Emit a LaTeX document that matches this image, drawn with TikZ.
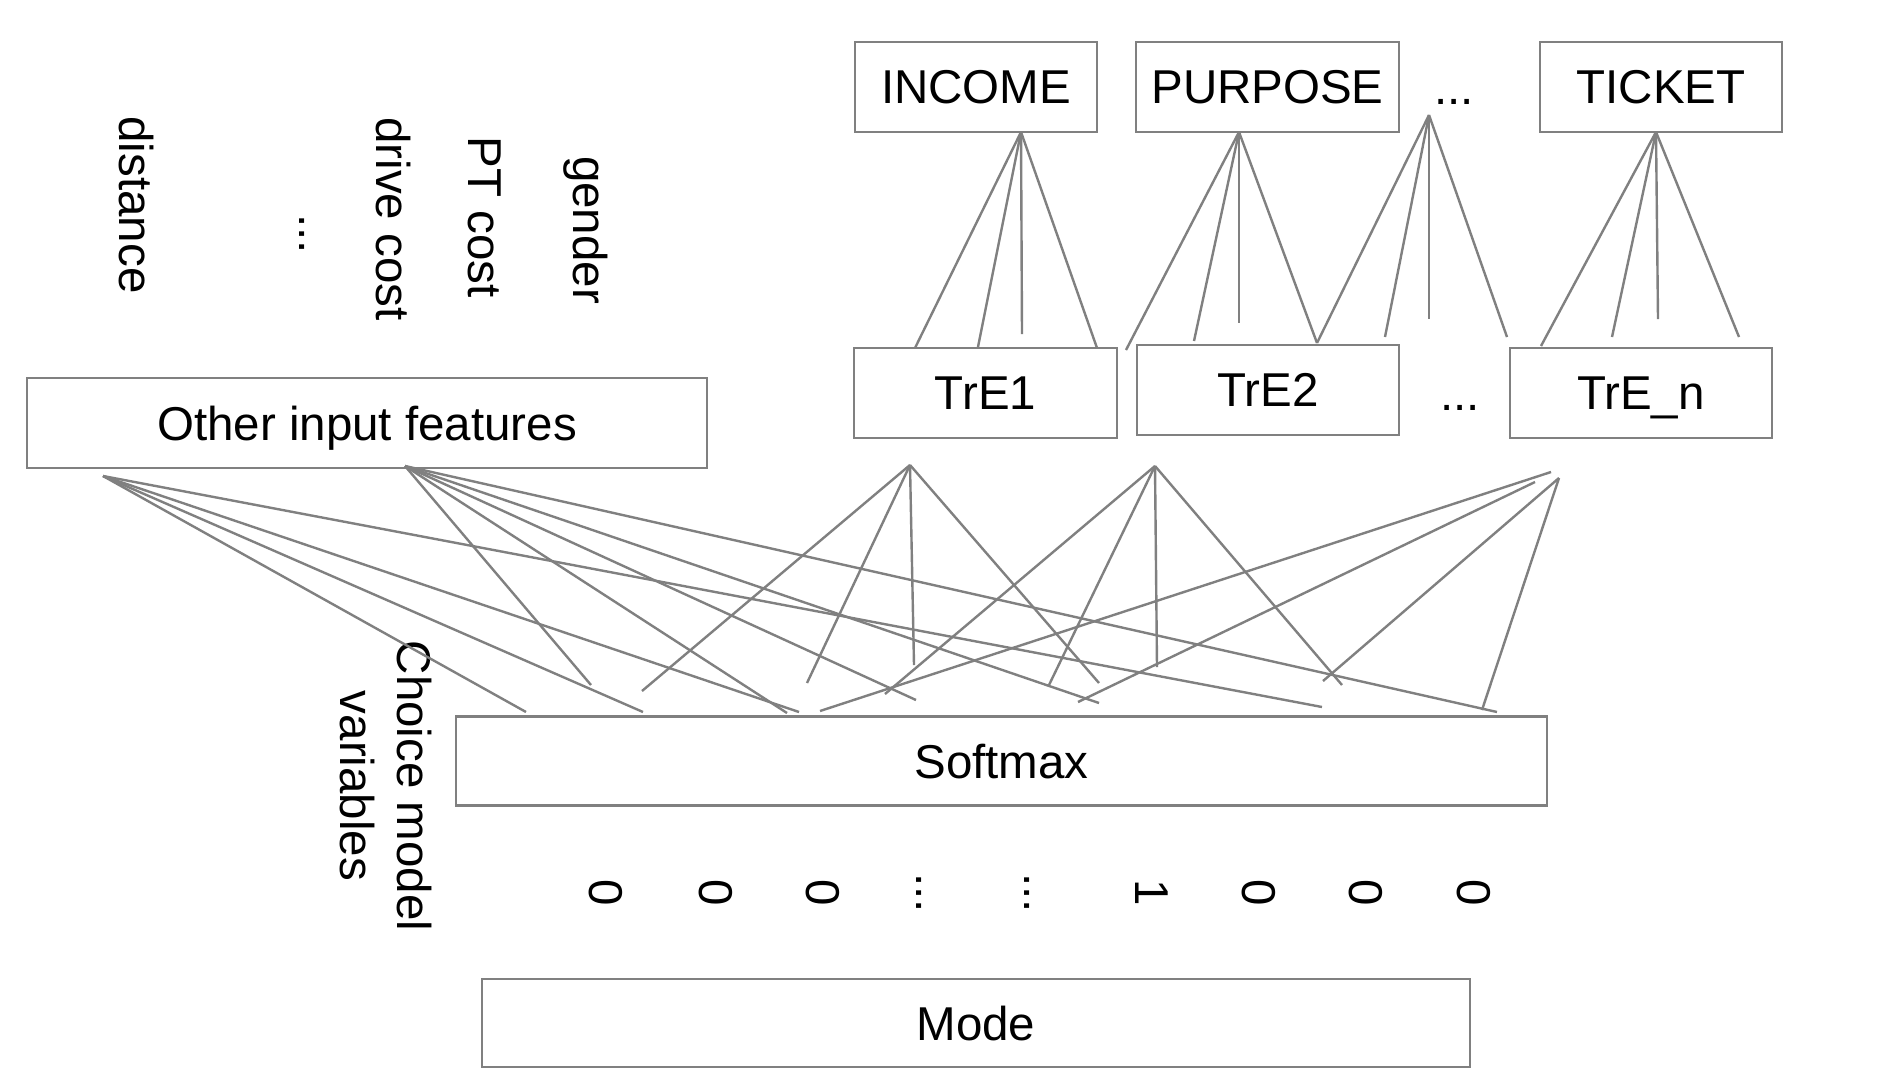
\documentclass[tikz,border=0pt]{standalone}
\usepackage{fontspec}
\setmainfont{Liberation Sans}
\definecolor{linegray}{RGB}{128,128,128}
\begin{document}
\begin{tikzpicture}[x=1pt,y=-1pt,
  box/.style={draw=linegray, line width=2.6pt, inner sep=0pt, text=black, text depth=0pt,
              font=\fontsize{47.5}{57}\selectfont},
  conn/.style={draw=linegray, line width=2.4pt},
  lbl/.style={inner sep=0pt, text=black, font=\fontsize{47.5}{57}\selectfont},
  vlbl/.style={lbl, rotate=-90},
]
\fill[white] (0,0) rectangle (1882,1080);
\useasboundingbox (0,0) rectangle (1882,1080);

% ---- boxes ----
\node[box, minimum width=242pt, minimum height=90pt] (income)  at (976,87)    {INCOME};
\node[box, minimum width=263pt, minimum height=90pt] (purpose) at (1267.5,87) {PURPOSE};
\node[box, minimum width=242pt, minimum height=90pt] (ticket)  at (1661,87)   {TICKET};
\node[lbl, anchor=base] (topdots) at (1454,104) {...};

\node[box, minimum width=263pt, minimum height=90pt] (tre1) at (985.5,393) {TrE1};
\node[box, minimum width=262pt, minimum height=90pt] (tre2) at (1268,390)  {TrE2};
\node[box, minimum width=262pt, minimum height=90pt] (tren) at (1641,393) {TrE\_n};
\node[lbl, anchor=base] (midots) at (1460,410) {...};

\node[box, minimum width=680pt, minimum height=90pt] (other) at (367,423) {Other input features};
\node[box, minimum width=1091pt, minimum height=89pt] (softmax) at (1001.5,761) {Softmax};
\node[box, minimum width=988pt, minimum height=88pt] (mode) at (976,1023) {Mode};

% ---- rotated feature labels ----
\node[vlbl] (distance) at (136,205) {distance};
\node[vlbl] (fdots)    at (302,234) {...};
\node[vlbl] (drive)    at (393,219) {drive cost};
\node[vlbl] (ptcost)   at (485,217) {PT cost};
\node[vlbl] (gender)   at (586,230) {gender};

\node[vlbl, align=center] (choice) at (386,786) {Choice model\\variables};

% ---- one-hot digits ----
\node[vlbl] (d1) at (606,893) {0};
\node[vlbl] (d2) at (716,893) {0};
\node[vlbl] (d3) at (823,893) {0};
\node[vlbl] (d4) at (919,893) {...};
\node[vlbl] (d5) at (1027,893) {...};
\node[vlbl] (d6) at (1152,893) {1};
\node[vlbl] (d7) at (1259,893) {0};
\node[vlbl] (d8) at (1366,893) {0};
\node[vlbl] (d9) at (1474,893) {0};

% ---- fan apexes ----
\coordinate (I0) at (1021,132);
\coordinate (P0) at (1239,132);
\coordinate (D0) at (1429,115);
\coordinate (T0) at (1656,132);
\coordinate (A0) at (103,476);
\coordinate (B0) at (405,466);
\coordinate (E1) at (910,465);
\coordinate (E2) at (1155,466);
\coordinate (Ena) at (1551,472);
\coordinate (Enb) at (1535,482);
\coordinate (Enc) at (1559,478);

% ---- fan ends, top ----
\coordinate (ie1) at (915,348);  \coordinate (ie2) at (978,347);
\coordinate (ie3) at (1022,334); \coordinate (ie4) at (1097,348);
\coordinate (pe1) at (1126,350); \coordinate (pe2) at (1194,341);
\coordinate (pe3) at (1239,323); \coordinate (pe4) at (1317,343);
\coordinate (de2) at (1385,337); \coordinate (de3) at (1429,319);
\coordinate (de4) at (1507,337);
\coordinate (te1) at (1541,346); \coordinate (te2) at (1612,337);
\coordinate (te3) at (1658,319); \coordinate (te4) at (1739,337);

% ---- fan ends, bottom ----
\coordinate (ae1) at (526,712);  \coordinate (ae2) at (643,712);
\coordinate (ae3) at (799,712);  \coordinate (ae4) at (1322,707);
\coordinate (be1) at (591,685);  \coordinate (be2) at (787,713);
\coordinate (be3) at (916,700);  \coordinate (be4) at (1099,703);
\coordinate (be5) at (1497,712);
\coordinate (ee1) at (642,691);  \coordinate (ee2) at (807,683);
\coordinate (ee3) at (914,665);  \coordinate (ee4) at (1099,683);
\coordinate (fe1) at (885,694);  \coordinate (fe2) at (1049,685);
\coordinate (fe3) at (1157,667); \coordinate (fe4) at (1342,685);
\coordinate (ge1) at (820,711);  \coordinate (ge2) at (1078,702);
\coordinate (ge3) at (1323,681); \coordinate (ge4) at (1482,710);

% ---- connectors ----
\draw[conn] (I0) -- (ie1);  \draw[conn] (I0) -- (ie2);
\draw[conn] (I0) -- (ie3);  \draw[conn] (I0) -- (ie4);
\draw[conn] (P0) -- (pe1);  \draw[conn] (P0) -- (pe2);
\draw[conn] (P0) -- (pe3);  \draw[conn] (P0) -- (pe4);
\draw[conn] (D0) -- (pe4);  \draw[conn] (D0) -- (de2);
\draw[conn] (D0) -- (de3);  \draw[conn] (D0) -- (de4);
\draw[conn] (T0) -- (te1);  \draw[conn] (T0) -- (te2);
\draw[conn] (T0) -- (te3);  \draw[conn] (T0) -- (te4);

\draw[conn] (A0) -- (ae1);  \draw[conn] (A0) -- (ae2);
\draw[conn] (A0) -- (ae3);  \draw[conn] (A0) -- (ae4);
\draw[conn] (B0) -- (be1);  \draw[conn] (B0) -- (be2);
\draw[conn] (B0) -- (be3);  \draw[conn] (B0) -- (be4);
\draw[conn] (B0) -- (be5);
\draw[conn] (E1) -- (ee1);  \draw[conn] (E1) -- (ee2);
\draw[conn] (E1) -- (ee3);  \draw[conn] (E1) -- (ee4);
\draw[conn] (E2) -- (fe1);  \draw[conn] (E2) -- (fe2);
\draw[conn] (E2) -- (fe3);  \draw[conn] (E2) -- (fe4);
\draw[conn] (Ena) -- (ge1); \draw[conn] (Enb) -- (ge2);
\draw[conn] (Enc) -- (ge3); \draw[conn] (Enc) -- (ge4);
\end{tikzpicture}
\end{document}
